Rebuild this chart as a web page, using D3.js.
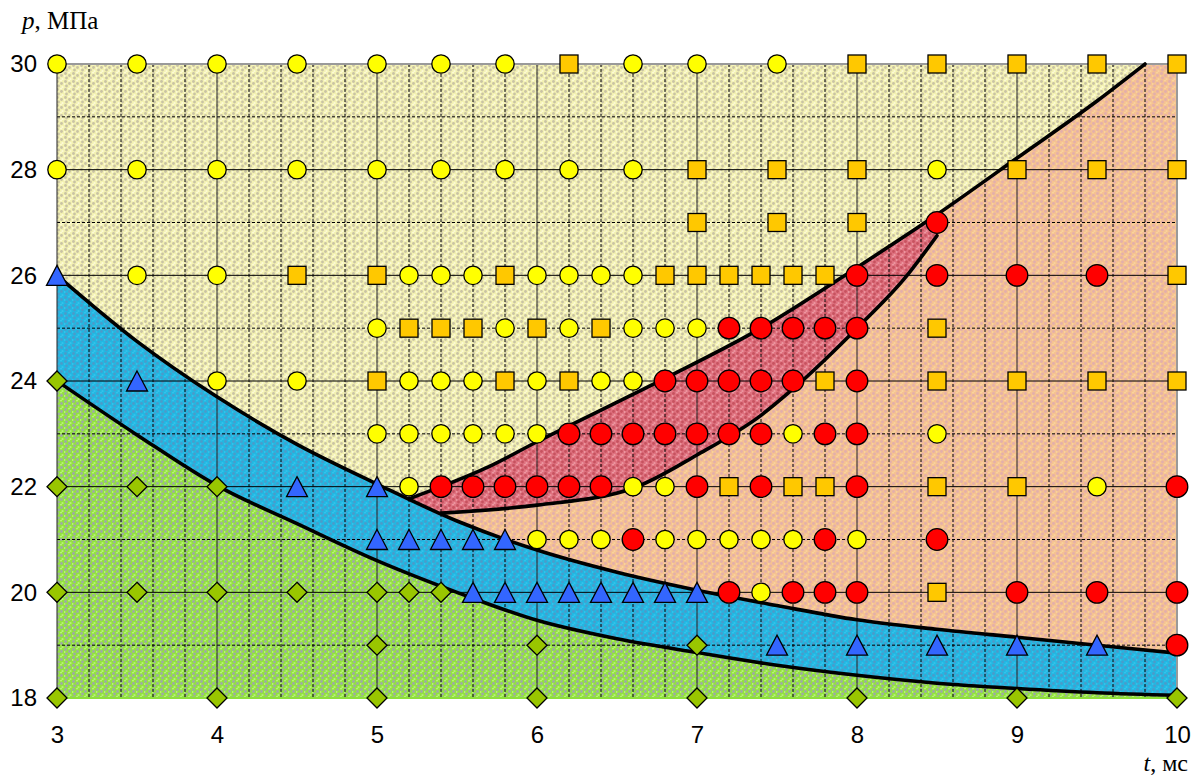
<!DOCTYPE html>
<html>
<head>
<meta charset="utf-8">
<script src="https://cdn.jsdelivr.net/npm/d3@7"></script>
<style>
  body { margin: 0; background: #fff; }
</style>
</head>
<body>
<div id="chart-area"></div>
<script>
const SVG_WIDTH = 1192;
const SVG_HEIGHT = 778;

// points as [t, p]
const yellowCircles = [
  [3,30],[3.5,30],[4,30],[4.5,30],[5,30],[5.4,30],[5.8,30],[6.6,30],[7,30],[7.5,30],
  [3,28],[3.5,28],[4,28],[4.5,28],[5,28],[5.4,28],[5.8,28],[6.2,28],[6.6,28],[8.5,28],
  [3.5,26],[4,26],[5.2,26],[5.4,26],[5.6,26],[6,26],[6.2,26],[6.4,26],[6.6,26],
  [5,25],[5.8,25],[6.2,25],[6.6,25],[6.8,25],[7,25],
  [4,24],[4.5,24],[5.2,24],[5.4,24],[5.6,24],[6,24],[6.4,24],[6.6,24],
  [5,23],[5.2,23],[5.4,23],[5.6,23],[5.8,23],[6,23],[7.6,23],[8.5,23],
  [5.2,22],[6.6,22],[6.8,22],[9.5,22],
  [6,21],[6.2,21],[6.4,21],[6.8,21],[7,21],[7.2,21],[7.4,21],[7.6,21],[8,21],
  [7.4,20]
];
const squares = [
  [6.2,30],[8,30],[8.5,30],[9,30],[9.5,30],[10,30],
  [7,28],[7.5,28],[8,28],[9,28],[9.5,28],[10,28],
  [7,27],[7.5,27],[8,27],
  [4.5,26],[5,26],[5.8,26],[6.8,26],[7,26],[7.2,26],[7.4,26],[7.6,26],[7.8,26],[10,26],
  [5.2,25],[5.4,25],[5.6,25],[6,25],[6.4,25],[8.5,25],
  [5,24],[5.8,24],[6.2,24],[7.8,24],[8.5,24],[9,24],[9.5,24],[10,24],
  [7.2,22],[7.6,22],[7.8,22],[8.5,22],[9,22],
  [8.5,20]
];
const redCircles = [
  [8.5,27],
  [8,26],[8.5,26],[9,26],[9.5,26],
  [7.2,25],[7.4,25],[7.6,25],[7.8,25],[8,25],
  [6.8,24],[7,24],[7.2,24],[7.4,24],[7.6,24],[8,24],
  [6.2,23],[6.4,23],[6.6,23],[6.8,23],[7,23],[7.2,23],[7.4,23],[7.8,23],[8,23],
  [5.4,22],[5.6,22],[5.8,22],[6,22],[6.2,22],[6.4,22],[7,22],[7.4,22],[8,22],[10,22],
  [6.6,21],[7.8,21],[8.5,21],
  [7.2,20],[7.6,20],[7.8,20],[8,20],[9,20],[9.5,20],[10,20],
  [10,19]
];
const triangles = [
  [3,26],[3.5,24],[4.5,22],[5,22],
  [5,21],[5.2,21],[5.4,21],[5.6,21],[5.8,21],
  [5.6,20],[5.8,20],[6,20],[6.2,20],[6.4,20],[6.6,20],[6.8,20],[7,20],
  [7.5,19],[8,19],[8.5,19],[9,19],[9.5,19]
];
const diamonds = [
  [3,24],[3,22],[3.5,22],[4,22],
  [3,20],[3.5,20],[4,20],[4.5,20],[5,20],[5.2,20],[5.4,20],
  [5,19],[6,19],[7,19],
  [3,18],[4,18],[5,18],[6,18],[7,18],[8,18],[9,18],[10,18]
];

// region boundaries
const upperCurve = [[3,26],[3.5,24.75],[4,23.7],[4.5,22.8],[5,22.05],[5.5,21.35],[6,20.8],[6.5,20.38],[7,20.04],[7.5,19.75],[8,19.48],[8.5,19.3],[9,19.15],[9.5,19],[10,18.85]];
const lowerCurve = [[3,24],[3.5,22.98],[4,22.02],[4.5,21.3],[5,20.6],[5.5,20],[6,19.47],[6.5,19.12],[7,18.86],[7.5,18.62],[8,18.43],[8.5,18.28],[9,18.18],[9.5,18.1],[10,18.05]];
const boundaryLine = [[5.2,21.77],[5.4,22],[5.7,22.38],[6,22.85],[6.4,23.45],[6.8,24.05],[7.4,25],[8,26.15],[8.5,27.15],[9,28.22],[9.5,29.3],[9.8,30]];
const redLower = [[5.4,21.5],[6,21.65],[6.6,21.97],[7,22.6],[7.4,23.35],[7.6,23.85],[8,25],[8.3,25.95],[8.5,26.75]];

const xTicks = [3,4,5,6,7,8,9,10];
const yTicks = [18,20,22,24,26,28,30];
const xMinor = d3.range(0, 36).filter(i => i % 5 !== 0).map(i => 3 + i * 0.2);
const yMinor = [19,21,23,25,27,29];

const x = d3.scaleLinear().domain([3,10]).range([57,1177]);
const y = d3.scaleLinear().domain([18,30]).range([698,64]);

const svg = d3.select("#chart-area").append("svg").attr("width", SVG_WIDTH).attr("height", SVG_HEIGHT);

// dotted textures
const defs = svg.append("defs");
function texture(id, base, c1, c2) {
  const p = defs.append("pattern").attr("id", id).attr("patternUnits", "userSpaceOnUse").attr("width", 8).attr("height", 8);
  p.append("rect").attr("width", 8).attr("height", 8).attr("fill", base);
  [[1.5,1.5],[5.5,3.5],[2.5,6]].forEach(d => p.append("circle").attr("cx", d[0]).attr("cy", d[1]).attr("r", 1.4).attr("fill", c1));
  [[5,0.5],[0.5,4],[6.5,7]].forEach(d => p.append("circle").attr("cx", d[0]).attr("cy", d[1]).attr("r", 1.1).attr("fill", c2));
}
texture("tex-yellow", "#f3f1b2", "#c9c3a4", "#fcfad6");
texture("tex-orange", "#f5c192", "#e3afab", "#f9d39a");
texture("tex-red", "#df717f", "#c7525f", "#ec97a0");
texture("tex-blue", "#22b7e2", "#4a9ccb", "#33c2ea");
texture("tex-green", "#93e23f", "#9eaaa6", "#b6f276");

const line = d3.line().x(d => x(d[0])).y(d => y(d[1])).curve(d3.curveMonotoneX);

// fills
svg.append("rect").attr("x", x(3)).attr("y", y(30)).attr("width", x(10) - x(3)).attr("height", y(18) - y(30)).attr("fill", "url(#tex-yellow)");

svg.append("path").
  attr("d", line(boundaryLine) + `L${x(10)},${y(30)}L${x(10)},${y(18)}L${x(5.2)},${y(18)}Z`).
  attr("fill", "url(#tex-orange)");

const redTop = boundaryLine.filter(d => d[0] <= 8.5);
svg.append("path").
  attr("d", line(redTop) + line(redLower.slice().reverse()).replace(/^M/, "L") + "Z").
  attr("fill", "url(#tex-red)");

const band = d3.area().x(d => x(d[0])).y0((d, i) => y(lowerCurve[i][1])).y1(d => y(d[1])).curve(d3.curveMonotoneX);
svg.append("path").attr("d", band(upperCurve)).attr("fill", "url(#tex-blue)");

const below = d3.area().x(d => x(d[0])).y0(y(18)).y1(d => y(d[1])).curve(d3.curveMonotoneX);
svg.append("path").attr("d", below(lowerCurve)).attr("fill", "url(#tex-green)");

// grid
const grid = svg.append("g").attr("class", "grid");
grid.selectAll(".vminor").data(xMinor).enter().append("line").
  attr("x1", d => x(d)).attr("x2", d => x(d)).attr("y1", y(30)).attr("y2", y(18)).
  attr("stroke", "#000").attr("stroke-width", 1).attr("stroke-dasharray", "3,2");
grid.selectAll(".hminor").data(yMinor).enter().append("line").
  attr("x1", x(3)).attr("x2", x(10)).attr("y1", d => y(d)).attr("y2", d => y(d)).
  attr("stroke", "#000").attr("stroke-width", 1).attr("stroke-dasharray", "3,2");
grid.selectAll(".vmajor").data(xTicks.filter(d => d < 10)).enter().append("line").
  attr("x1", d => x(d)).attr("x2", d => x(d)).attr("y1", y(30)).attr("y2", y(18)).
  attr("stroke", "#222").attr("stroke-width", 1);
grid.selectAll(".hmajor").data(yTicks.filter(d => d > 18 && d < 30)).enter().append("line").
  attr("x1", x(3)).attr("x2", x(10)).attr("y1", d => y(d)).attr("y2", d => y(d)).
  attr("stroke", "#000").attr("stroke-width", 1);
// plot frame
grid.append("line").attr("x1", x(3)).attr("x2", x(10)).attr("y1", y(30)).attr("y2", y(30)).attr("stroke", "#9a9a9a").attr("stroke-width", 2);
grid.append("line").attr("x1", x(10)).attr("x2", x(10)).attr("y1", y(30)).attr("y2", y(18)).attr("stroke", "#9a9a9a").attr("stroke-width", 2);
grid.append("line").attr("x1", x(3)).attr("x2", x(10)).attr("y1", y(18)).attr("y2", y(18)).attr("stroke", "#8ee03a").attr("stroke-width", 2);

// boundary lines
[upperCurve, lowerCurve, boundaryLine, redLower].forEach(pts => {
  svg.append("path").attr("d", line(pts)).
    attr("fill", "none").attr("stroke", "#000").attr("stroke-width", 3.6).attr("stroke-linecap", "round");
});

// markers
const markers = svg.append("g").attr("stroke", "#000").attr("stroke-width", 1.3);

markers.selectAll(".diamond").data(diamonds).enter().append("path").
  attr("d", "M0,-10L10,0L0,10L-10,0Z").
  attr("transform", d => `translate(${x(d[0])},${y(d[1])})`).
  attr("fill", "#99c600");

markers.selectAll(".triangle").data(triangles).enter().append("path").
  attr("d", "M0,-10L10.5,10L-10.5,10Z").
  attr("transform", d => `translate(${x(d[0])},${y(d[1])})`).
  attr("fill", "#3366ff");

markers.selectAll(".square").data(squares).enter().append("rect").
  attr("x", d => x(d[0]) - 9).attr("y", d => y(d[1]) - 9).
  attr("width", 18).attr("height", 18).
  attr("fill", "#ffc800");

markers.selectAll(".ycircle").data(yellowCircles).enter().append("circle").
  attr("cx", d => x(d[0])).attr("cy", d => y(d[1])).attr("r", 9.2).
  attr("fill", "#ffff00");

markers.selectAll(".rcircle").data(redCircles).enter().append("circle").
  attr("cx", d => x(d[0])).attr("cy", d => y(d[1])).attr("r", 10.8).
  attr("fill", "#ff0000");

// tick labels
const xAxisCall = d3.axisBottom(x).tickValues(xTicks).tickSize(0).tickPadding(0).tickFormat(d3.format("d"));
svg.append("g").attr("class", "x axis").
  attr("transform", "translate(0, 726)").
  call(xAxisCall).
  call(g => g.select(".domain").remove()).
  selectAll("text").
  attr("y", 0).attr("dy", "0.72em").
  attr("font-family", "'Liberation Sans', Arial, sans-serif").
  attr("font-size", "24px").
  attr("fill", "#000");

const yAxisCall = d3.axisLeft(y).tickValues(yTicks).tickSize(0).tickPadding(0);
svg.append("g").attr("class", "y axis").
  attr("transform", "translate(37, 0)").
  call(yAxisCall).
  call(g => g.select(".domain").remove()).
  selectAll("text").
  attr("x", 0).
  attr("font-family", "'Liberation Sans', Arial, sans-serif").
  attr("font-size", "24px").
  attr("fill", "#000");

// axis titles
const yTitle = svg.append("text").attr("x", 22).attr("y", 29).
  attr("font-family", "'Liberation Serif', 'Times New Roman', serif").attr("font-size", "25px");
yTitle.append("tspan").attr("font-style", "italic").text("p");
yTitle.append("tspan").text(", МПа");

const xTitle = svg.append("text").attr("x", 1188).attr("y", 771).attr("text-anchor", "end").
  attr("font-family", "'Liberation Serif', 'Times New Roman', serif").attr("font-size", "24px");
xTitle.append("tspan").attr("font-style", "italic").text("t");
xTitle.append("tspan").text(", мс");
</script>
</body>
</html>
